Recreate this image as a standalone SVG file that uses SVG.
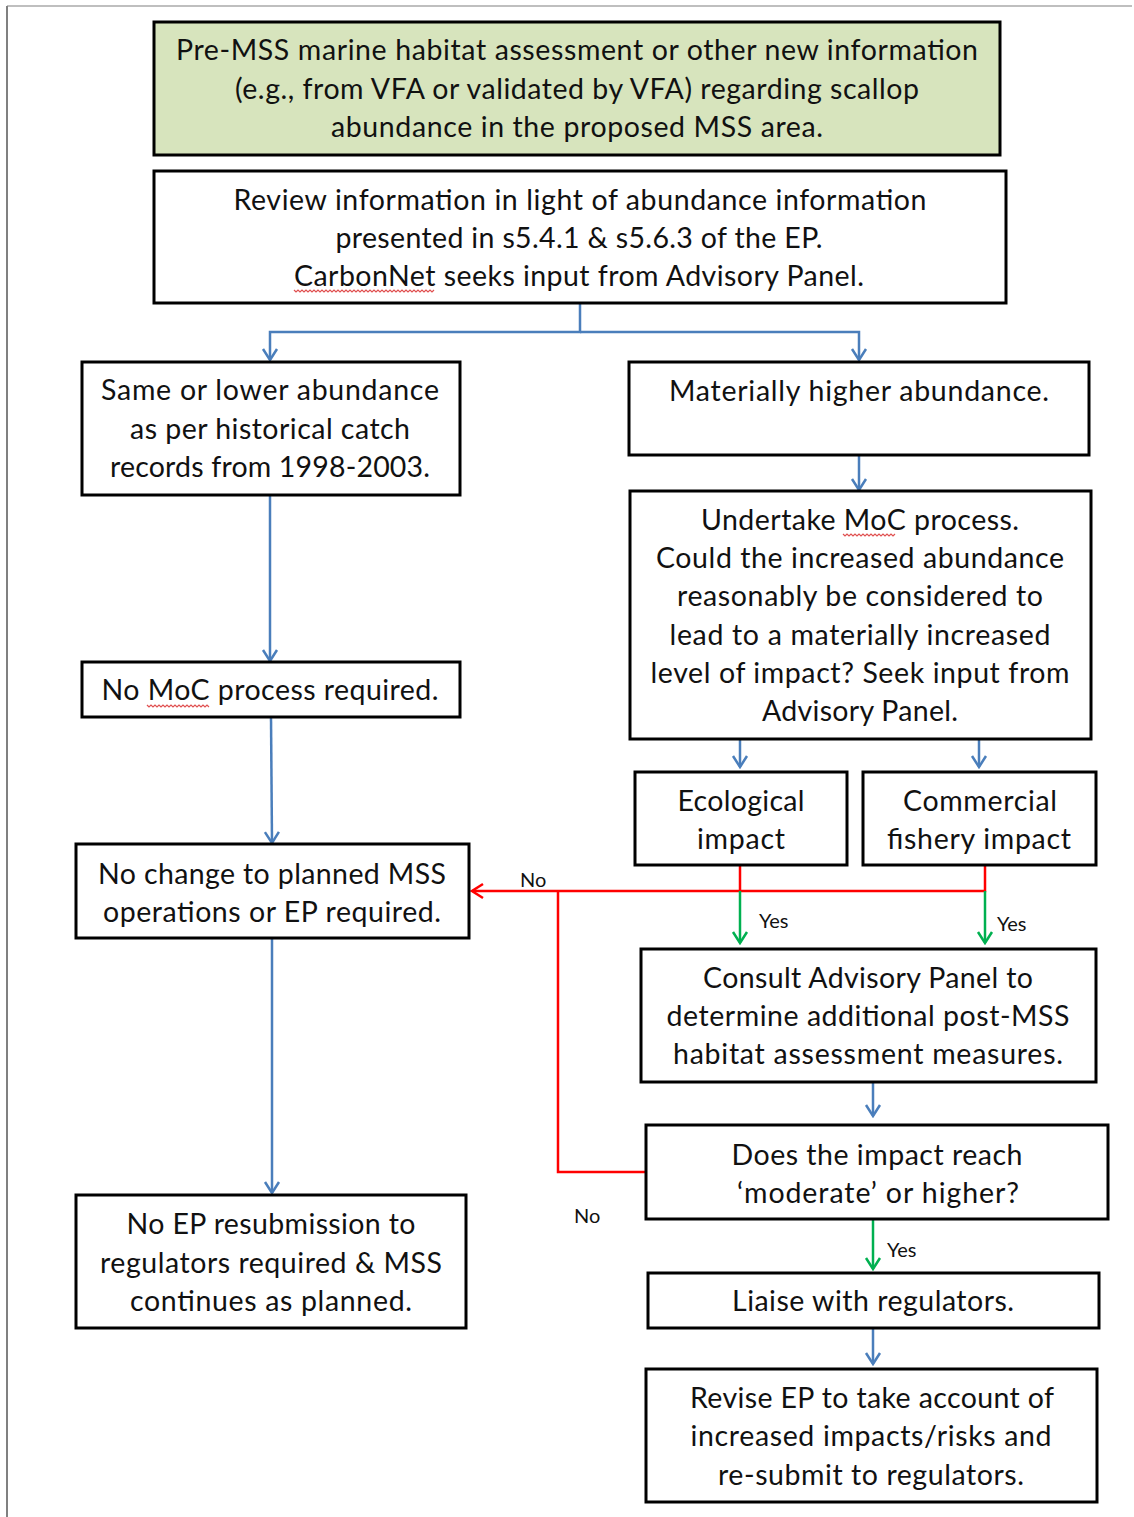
<svg xmlns="http://www.w3.org/2000/svg" width="1134" height="1517" viewBox="0 0 1134 1517">
  <style>
    .box { fill: #ffffff; stroke: #000000; stroke-width: 3; }
    .green { fill: #d7e4bd; }
    .t { font-family: Lato, "Open Sans", "Liberation Sans", sans-serif; font-size: 28.5px; fill: #111111; text-anchor: middle; }
    .s { font-family: Lato, "Open Sans", "Liberation Sans", sans-serif; font-size: 20px; fill: #111111; }
    .blue { fill: none; stroke: #4a7ebb; stroke-width: 2.5; }
    .red { fill: none; stroke: #ff0000; stroke-width: 2.5; }
    .grn { fill: none; stroke: #00b050; stroke-width: 2.5; }
    .squig { fill: none; stroke: #e05050; stroke-width: 1.2; }
    .frame { stroke: #808080; fill: none; }
  </style>
  <defs>
    <marker id="ab" viewBox="0 0 18 18" markerWidth="18" markerHeight="18" refX="16" refY="9" orient="auto" markerUnits="userSpaceOnUse">
      <path d="M5,2 L16,9 L5,16" fill="none" stroke="#4a7ebb" stroke-width="2.5"/>
    </marker>
    <marker id="ar" viewBox="0 0 18 18" markerWidth="18" markerHeight="18" refX="16" refY="9" orient="auto" markerUnits="userSpaceOnUse">
      <path d="M5,2 L16,9 L5,16" fill="none" stroke="#ff0000" stroke-width="2.5"/>
    </marker>
    <marker id="ag" viewBox="0 0 18 18" markerWidth="18" markerHeight="18" refX="16" refY="9" orient="auto" markerUnits="userSpaceOnUse">
      <path d="M5,2 L16,9 L5,16" fill="none" stroke="#00b050" stroke-width="2.5"/>
    </marker>
  </defs>

  <rect width="1134" height="1517" fill="#ffffff"/>
  <!-- page frame -->
  <path class="frame" stroke-width="1.2" d="M7,6 H1132"/>
  <path class="frame" stroke-width="2" d="M7,6 V1517"/>

  <!-- connectors -->
  <g id="connectors">
    <path class="blue" d="M580,303 V332 H270 V360" marker-end="url(#ab)"/>
    <path class="blue" d="M580,332 H859 V360" marker-end="url(#ab)"/>
    <path class="blue" d="M859,455 V490" marker-end="url(#ab)"/>
    <path class="blue" d="M270,495 V661" marker-end="url(#ab)"/>
    <path class="blue" d="M271,717 L272,843" marker-end="url(#ab)"/>
    <path class="blue" d="M272,938 V1193" marker-end="url(#ab)"/>
    <path class="blue" d="M740,739 V767" marker-end="url(#ab)"/>
    <path class="blue" d="M979,739 V767" marker-end="url(#ab)"/>
    <path class="blue" d="M873,1082 V1116" marker-end="url(#ab)"/>
    <path class="blue" d="M873,1328 V1364" marker-end="url(#ab)"/>

    <path class="red" d="M740,865 V891"/>
    <path class="red" d="M985,865 V891 H472" marker-end="url(#ar)"/>
    <path class="red" d="M558,891 V1172 H646"/>

    <path class="grn" d="M740,891 V943" marker-end="url(#ag)"/>
    <path class="grn" d="M985,891 V943" marker-end="url(#ag)"/>
    <path class="grn" d="M873,1219 V1269" marker-end="url(#ag)"/>

    <text class="s" x="520" y="887">No</text>
    <text class="s" x="759" y="928">Yes</text>
    <text class="s" x="997" y="931">Yes</text>
    <text class="s" x="574" y="1223">No</text>
    <text class="s" x="887" y="1257">Yes</text>
  </g>

  <g id="n-premss">
    <rect class="box green" x="154" y="22" width="846" height="133"/>
    <text class="t" x="577" y="60" textLength="802">Pre-MSS marine habitat assessment or other new information</text>
    <text class="t" x="577" y="98.5" textLength="684">(e.g., from VFA or validated by VFA) regarding scallop</text>
    <text class="t" x="577" y="137" textLength="492">abundance in the proposed MSS area.</text>
  </g>

  <g id="n-review">
    <rect class="box" x="154" y="171" width="852" height="132"/>
    <text class="t" x="580" y="210" textLength="693">Review information in light of abundance information</text>
    <text class="t" x="579" y="248" textLength="487">presented in s5.4.1 &amp; s5.6.3 of the EP.</text>
    <text class="t" x="579" y="286" textLength="570">CarbonNet seeks input from Advisory Panel.</text>
    <path class="squig" d="M294,290 l2,2 l2,-2 l2,2 l2,-2 l2,2 l2,-2 l2,2 l2,-2 l2,2 l2,-2 l2,2 l2,-2 l2,2 l2,-2 l2,2 l2,-2 l2,2 l2,-2 l2,2 l2,-2 l2,2 l2,-2 l2,2 l2,-2 l2,2 l2,-2 l2,2 l2,-2 l2,2 l2,-2 l2,2 l2,-2 l2,2 l2,-2 l2,2 l2,-2 l2,2 l2,-2 l2,2 l2,-2 l2,2 l2,-2 l2,2 l2,-2 l2,2 l2,-2 l2,2 l2,-2 l2,2 l2,-2 l2,2 l2,-2 l2,2 l2,-2 l2,2 l2,-2 l2,2 l2,-2 l2,2 l2,-2 l2,2 l2,-2 l2,2 l2,-2 l2,2 l2,-2 l2,2 l2,-2 l2,2 l2,-2"/>
  </g>

  <g id="n-same">
    <rect class="box" x="82" y="362" width="378" height="133"/>
    <text class="t" x="270" y="400" textLength="338">Same or lower abundance</text>
    <text class="t" x="270" y="439" textLength="280">as per historical catch</text>
    <text class="t" x="270" y="477" textLength="320">records from 1998-2003.</text>
  </g>

  <g id="n-higher">
    <rect class="box" x="629" y="362" width="460" height="93"/>
    <text class="t" x="859" y="401" textLength="380">Materially higher abundance.</text>
  </g>

  <g id="n-moc">
    <rect class="box" x="630" y="491" width="461" height="248"/>
    <text class="t" x="860" y="530" textLength="318">Undertake MoC process.</text>
    <text class="t" x="860" y="568" textLength="408">Could the increased abundance</text>
    <text class="t" x="860" y="606" textLength="366">reasonably be considered to</text>
    <text class="t" x="860" y="645" textLength="381">lead to a materially increased</text>
    <text class="t" x="860" y="683" textLength="419">level of impact? Seek input from</text>
    <text class="t" x="860" y="721" textLength="196">Advisory Panel.</text>
    <path class="squig" d="M843,534 l2,2 l2,-2 l2,2 l2,-2 l2,2 l2,-2 l2,2 l2,-2 l2,2 l2,-2 l2,2 l2,-2 l2,2 l2,-2 l2,2 l2,-2 l2,2 l2,-2 l2,2 l2,-2 l2,2 l2,-2 l2,2 l2,-2 l2,2 l2,-2"/>
  </g>

  <g id="n-nomoc">
    <rect class="box" x="82" y="662" width="378" height="55"/>
    <text class="t" x="270" y="700" textLength="337">No MoC process required.</text>
    <path class="squig" d="M147,705 l2,2 l2,-2 l2,2 l2,-2 l2,2 l2,-2 l2,2 l2,-2 l2,2 l2,-2 l2,2 l2,-2 l2,2 l2,-2 l2,2 l2,-2 l2,2 l2,-2 l2,2 l2,-2 l2,2 l2,-2 l2,2 l2,-2 l2,2 l2,-2 l2,2 l2,-2 l2,2 l2,-2 l2,2"/>
  </g>

  <g id="n-nochange">
    <rect class="box" x="76" y="844" width="393" height="94"/>
    <text class="t" x="272" y="884" textLength="348">No change to planned MSS</text>
    <text class="t" x="272" y="922" textLength="338">operations or EP required.</text>
  </g>

  <g id="n-noresub">
    <rect class="box" x="76" y="1195" width="390" height="133"/>
    <text class="t" x="271" y="1234" textLength="289">No EP resubmission to</text>
    <text class="t" x="271" y="1273" textLength="342">regulators required &amp; MSS</text>
    <text class="t" x="271" y="1311" textLength="282">continues as planned.</text>
  </g>

  <g id="n-eco">
    <rect class="box" x="635" y="772" width="212" height="93"/>
    <text class="t" x="741" y="811" textLength="127">Ecological</text>
    <text class="t" x="741" y="849" textLength="88">impact</text>
  </g>

  <g id="n-comm">
    <rect class="box" x="863" y="772" width="233" height="93"/>
    <text class="t" x="980" y="811" textLength="154">Commercial</text>
    <text class="t" x="979" y="849" textLength="184">fishery impact</text>
  </g>

  <g id="n-consult">
    <rect class="box" x="641" y="949" width="455" height="133"/>
    <text class="t" x="868" y="988" textLength="330">Consult Advisory Panel to</text>
    <text class="t" x="868" y="1026" textLength="403">determine additional post-MSS</text>
    <text class="t" x="868" y="1064" textLength="390">habitat assessment measures.</text>
  </g>

  <g id="n-moderate">
    <rect class="box" x="646" y="1125" width="462" height="94"/>
    <text class="t" x="877" y="1165" textLength="291">Does the impact reach</text>
    <text class="t" x="878" y="1203" textLength="282">‘moderate’ or higher?</text>
  </g>

  <g id="n-liaise">
    <rect class="box" x="648" y="1273" width="451" height="55"/>
    <text class="t" x="873" y="1311" textLength="282">Liaise with regulators.</text>
  </g>

  <g id="n-revise">
    <rect class="box" x="646" y="1369" width="451" height="133"/>
    <text class="t" x="872" y="1408" textLength="364">Revise EP to take account of</text>
    <text class="t" x="871" y="1446" textLength="361">increased impacts/risks and</text>
    <text class="t" x="871" y="1485" textLength="306">re-submit to regulators.</text>
  </g>
</svg>
